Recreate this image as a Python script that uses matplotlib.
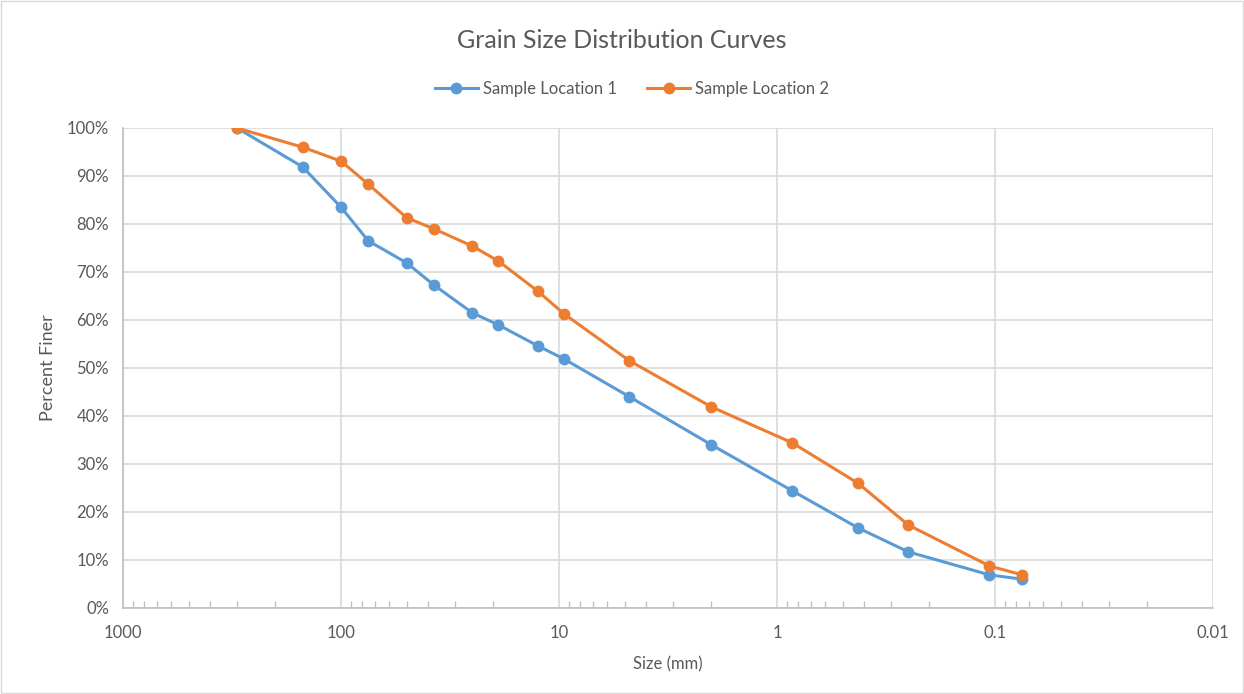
import matplotlib
matplotlib.use("Agg")
import matplotlib.pyplot as plt
from matplotlib.ticker import FixedLocator, FuncFormatter, LogLocator, NullFormatter, MultipleLocator
from matplotlib.lines import Line2D
from matplotlib.patches import Rectangle

plt.rcParams['font.family'] = ['Lato', 'DejaVu Sans']

sizes = [300, 150, 100, 75, 50, 37.5, 25, 19, 12.5, 9.5, 4.75, 2.0, 0.85, 0.425, 0.25, 0.106, 0.075]
loc1 = [100.0, 91.9, 83.5, 76.5, 71.9, 67.3, 61.5, 59.0, 54.6, 51.9, 44.0, 34.0, 24.4, 16.7, 11.7, 6.9, 6.0]
loc2 = [100.0, 96.0, 93.1, 88.3, 81.3, 79.0, 75.4, 72.3, 66.0, 61.3, 51.5, 41.9, 34.4, 26.0, 17.3, 8.75, 6.9]
series_names = ["Sample Location 1", "Sample Location 2"]
x_ticks = [1000, 100, 10, 1, 0.1, 0.01]
x_tick_labels = ["1000", "100", "10", "1", "0.1", "0.01"]

blue = "#5B9BD5"
orange = "#ED7D31"
grid = "#D9D9D9"
txt = "#595959"

fig = plt.figure(figsize=(12.44, 6.94), dpi=100)
ax = fig.add_axes([123/1244, 1-608/694, (1213-123)/1244, (608-128)/694])

ax.plot(sizes, loc1, color=blue, lw=2.2, marker='o', ms=7.5, zorder=3, label=series_names[0])
ax.plot(sizes, loc2, color=orange, lw=2.2, marker='o', ms=7.5, zorder=4, label=series_names[1])

ax.set_xscale('log')
ax.set_xlim(1000, 0.01)
ax.set_ylim(0, 100)

ax.xaxis.set_major_locator(FixedLocator(x_ticks))
ax.xaxis.set_major_formatter(FuncFormatter(lambda v, p: x_tick_labels[x_ticks.index(min(x_ticks, key=lambda t: abs(t - v) / t))]))
ax.xaxis.set_minor_locator(LogLocator(base=10, subs=range(2, 10), numticks=20))
ax.xaxis.set_minor_formatter(NullFormatter())
ax.yaxis.set_major_locator(MultipleLocator(10))
ax.yaxis.set_major_formatter(FuncFormatter(lambda v, p: f"{int(round(v))}%"))

ax.grid(True, which='major', color=grid, lw=1.2)
ax.set_axisbelow(True)
for s in ['top', 'right']:
    ax.spines[s].set_visible(False)
ax.spines['bottom'].set_color('#BFBFBF')
ax.spines['bottom'].set_linewidth(1.2)
ax.spines['left'].set_color('#BFBFBF')
ax.spines['left'].set_linewidth(1.2)

ax.tick_params(axis='x', which='both', direction='in', color='#BFBFBF', width=1, labelcolor=txt, labelsize=12, pad=12)
ax.tick_params(axis='x', which='major', length=0)
ax.tick_params(axis='x', which='minor', length=5)
ax.tick_params(axis='y', which='both', length=0, labelcolor=txt, labelsize=12, pad=10)

ax.set_xlabel("Size (mm)", color=txt, fontsize=12, labelpad=11)
ax.set_ylabel("Percent Finer", color=txt, fontsize=13, labelpad=8)

fig.text(0.5, 1-41/694, "Grain Size Distribution Curves", ha='center', va='center', fontsize=18, color=txt)

handles = [Line2D([0], [0], color=blue, lw=2.2, marker='o', ms=7.5),
           Line2D([0], [0], color=orange, lw=2.2, marker='o', ms=7.5)]
fig.legend(handles, series_names, loc='center', bbox_to_anchor=(0.508, 1-89/694), ncol=2, frameon=False,
           fontsize=12, labelcolor=txt, handlelength=2.6, handletextpad=0.3, columnspacing=1.8)

fig.patches.append(Rectangle((0.001, 0.001), 0.998, 0.998, transform=fig.transFigure, fill=False,
                             edgecolor='#D9D9D9', lw=1))

fig.savefig("out.png", dpi=100)
